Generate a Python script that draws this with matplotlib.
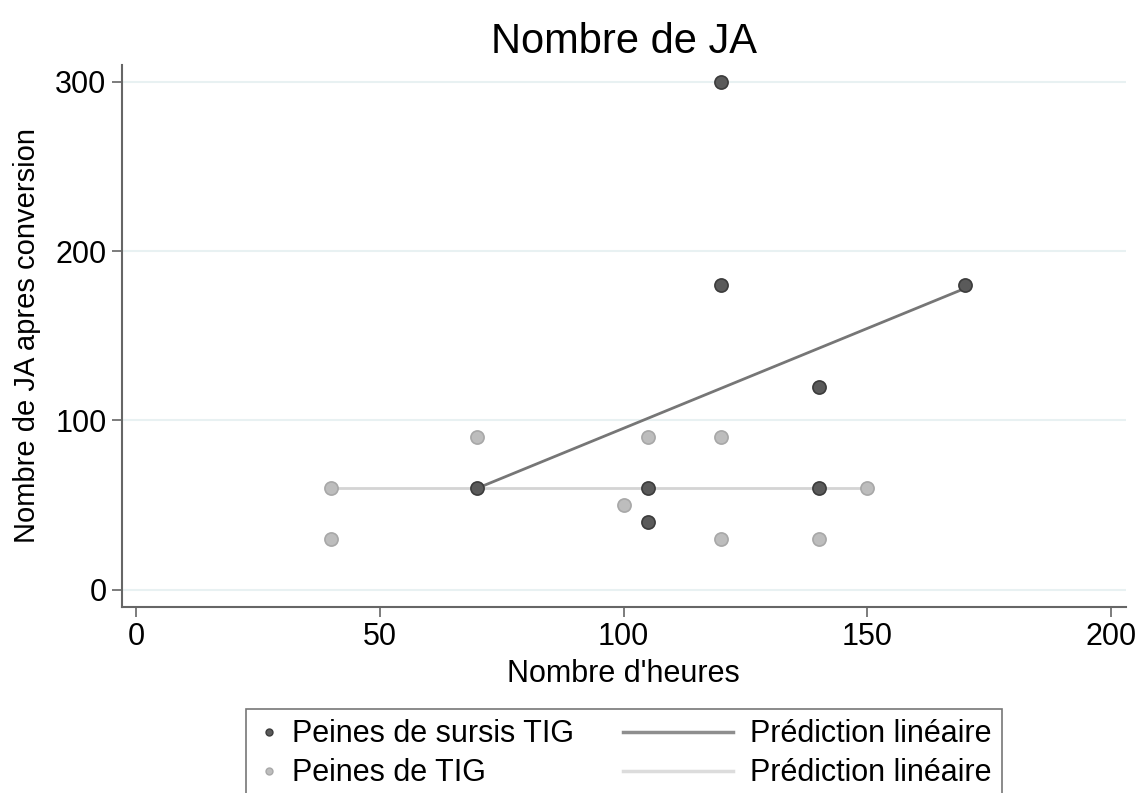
import matplotlib
matplotlib.use("Agg")
import matplotlib.pyplot as plt
from matplotlib.lines import Line2D
from matplotlib.legend_handler import HandlerLine2D

plt.rcParams['font.family'] = ['Liberation Sans', 'DejaVu Sans']

# Peines de sursis TIG
sursis_h = [70, 105, 105, 120, 120, 140, 140, 170]
sursis_ja = [60, 60, 40, 300, 180, 120, 60, 180]
# Peines de TIG
tig_h = [40, 40, 70, 100, 105, 120, 120, 140, 150]
tig_ja = [60, 30, 90, 50, 90, 90, 30, 30, 60]

# prédictions linéaires
pred_sursis_h = [70, 170]
pred_sursis_ja = [60, 178]
pred_tig_h = [40, 150]
pred_tig_ja = [60, 60]

dark = '#5a5a5a'
light = '#bdbdbd'


class LongLine(HandlerLine2D):
    # line sample longer than the (short) handle box, extending to the left
    def get_xdata(self, legend, xdescent, ydescent, width, height, fontsize):
        right = -xdescent + width - 0.2 * fontsize
        xdata = [right - 3.6 * fontsize, right]
        return xdata, xdata


fig = plt.figure(figsize=(11.37, 7.93), dpi=100)
ax = fig.add_axes([0.107, 0.235, 0.883, 0.683])

ax.plot(pred_tig_h, pred_tig_ja, color='#d4d4d4', lw=2, zorder=2)
ax.plot(pred_sursis_h, pred_sursis_ja, color='#767676', lw=2, zorder=3)
ax.scatter(tig_h, tig_ja, s=90, c=light, edgecolors='#a8a8a8', linewidths=1.2, zorder=4)
ax.scatter(sursis_h, sursis_ja, s=90, c=dark, edgecolors='#3c3c3c', linewidths=1.2, zorder=5)

ax.set_xlim(-3, 203)
ax.set_ylim(-10, 310)
ax.set_xticks([0, 50, 100, 150, 200])
ax.set_yticks([0, 100, 200, 300])
ax.grid(axis='y', color='#e8f1f2', lw=1.5)
ax.set_axisbelow(True)
for s in ['top', 'right']:
    ax.spines[s].set_visible(False)
for s in ['left', 'bottom']:
    ax.spines[s].set_color('#666666')
    ax.spines[s].set_linewidth(1.5)
ax.tick_params(length=7, width=1.2, color='#666666', labelsize=22, pad=4)

ax.set_title('Nombre de JA', fontsize=30, pad=9)
ax.set_xlabel("Nombre d'heures", fontsize=22, labelpad=5)
ax.set_ylabel('Nombre de JA apres conversion', fontsize=21, labelpad=10)

handles = [
    Line2D([], [], ls='', marker='o', ms=5, mfc=dark, mec='#3c3c3c'),
    Line2D([], [], ls='', marker='o', ms=5, mfc=light, mec='#a8a8a8'),
    Line2D([], [], color='#8e8e8e', lw=2.5),
    Line2D([], [], color='#dcdcdc', lw=2.5),
]
labels = ['Peines de sursis TIG', 'Peines de TIG', 'Prédiction linéaire', 'Prédiction linéaire']
leg = fig.legend(handles, labels, ncol=2, loc='lower center', bbox_to_anchor=(0.549, -0.027),
                 fontsize=22, frameon=True, fancybox=False, edgecolor='#555555',
                 handlelength=0.8, handletextpad=0.35, columnspacing=4.6,
                 labelspacing=0.3, borderpad=0.35,
                 handler_map={handles[2]: LongLine(), handles[3]: LongLine()})
leg.get_frame().set_linewidth(1.2)

fig.savefig('out.png', dpi=100)
